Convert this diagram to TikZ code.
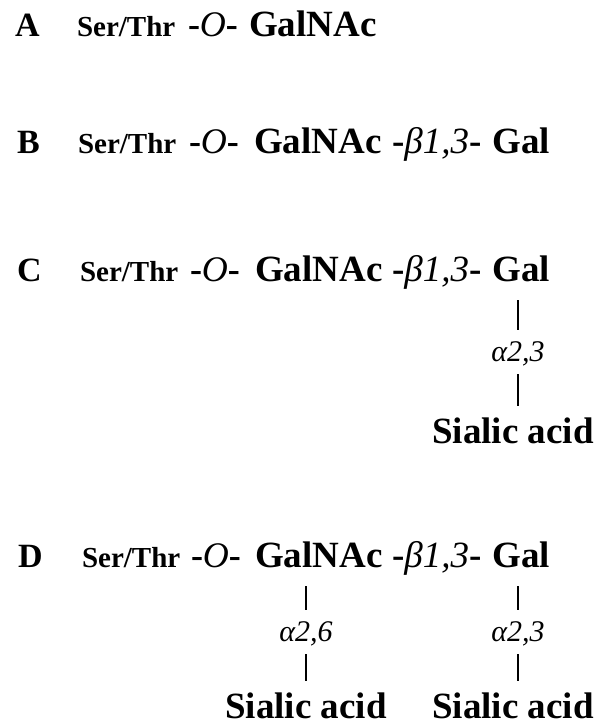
\documentclass[tikz,border=0pt]{standalone}
\usepackage{fontspec}
\setmainfont{Liberation Serif}
\begin{document}
\begin{tikzpicture}[x=1pt,y=-1pt,
  every node/.style={inner sep=0pt,outer sep=0pt},
  lbl/.style={font=\fontsize{34}{34}\selectfont\bfseries,anchor=base west},
  ser/.style={font=\fontsize{29}{29}\selectfont\bfseries,anchor=base west},
  olnk/.style={font=\fontsize{36}{36}\selectfont,anchor=base west},
  blnk/.style={font=\fontsize{37}{37}\selectfont,anchor=base west},
  sugar/.style={font=\fontsize{37}{37}\selectfont\bfseries,anchor=base west},
  sugarc/.style={font=\fontsize{37}{37}\selectfont\bfseries,anchor=base},
  bond/.style={font=\fontsize{30}{30}\selectfont\itshape,anchor=base},
  barup/.style={line width=1.6pt,shorten <=19pt,shorten >=11pt},
  bardn/.style={line width=1.6pt,shorten <=13pt,shorten >=11pt}]
\useasboundingbox[fill=white] (0,0) rectangle (605,728);
\newcommand{\Olink}{\textbf{-}\textit{O}\textbf{-}}
\newcommand{\Blink}{\textbf{-}\textit{β1,3}\textbf{-}}
% Row A
\node[lbl] (aL) at (15,36) {A};
\node[ser] (aS) at (77,36) {Ser/Thr};
\node[olnk] (aO) at (188,36) {\Olink};
\node[sugar] (aG) at (249,36) {GalNAc};
% Row B
\node[lbl] (bL) at (17,153) {B};
\node[ser] (bS) at (78,153) {Ser/Thr};
\node[olnk] (bO) at (189,153) {\Olink};
\node[sugar] (bG) at (254,153) {GalNAc};
\node[blnk] (bB) at (392,153) {\Blink};
\node[sugarc] (bGal) at (521,153) {Gal};
% Row C
\node[lbl] (cL) at (17,281) {C};
\node[ser] (cS) at (80,281) {Ser/Thr};
\node[olnk] (cO) at (190,281) {\Olink};
\node[sugar] (cG) at (255,281) {GalNAc};
\node[blnk] (cB) at (392,281) {\Blink};
\node[sugarc] (cGal) at (521,281) {Gal};
\node[bond] (cA) at (518,361) {α2,3};
\node[sugarc] (cSia) at (513,443) {Sialic acid};
\draw[barup] (cGal.south -| cA.north) -- (cA.north);
\draw[bardn] (cA.base) -- (cA.base |- cSia.north);
% Row D
\node[lbl] (dL) at (18,567) {D};
\node[ser] (dS) at (82,567) {Ser/Thr};
\node[olnk] (dO) at (191,567) {\Olink};
\node[sugar] (dG) at (255,567) {GalNAc};
\node[blnk] (dB) at (392,567) {\Blink};
\node[sugarc] (dGal) at (521,567) {Gal};
\node[bond] (dA6) at (306,641) {α2,6};
\node[bond] (dA3) at (518,641) {α2,3};
\node[sugarc] (dSia6) at (306,718) {Sialic acid};
\node[sugarc] (dSia3) at (513,718) {Sialic acid};
\draw[barup] (dG.south -| dA6.north) -- (dA6.north);
\draw[bardn] (dA6.base) -- (dSia6.north);
\draw[barup] (dGal.south -| dA3.north) -- (dA3.north);
\draw[bardn] (dA3.base) -- (dA3.base |- dSia3.north);
\end{tikzpicture}
\end{document}
